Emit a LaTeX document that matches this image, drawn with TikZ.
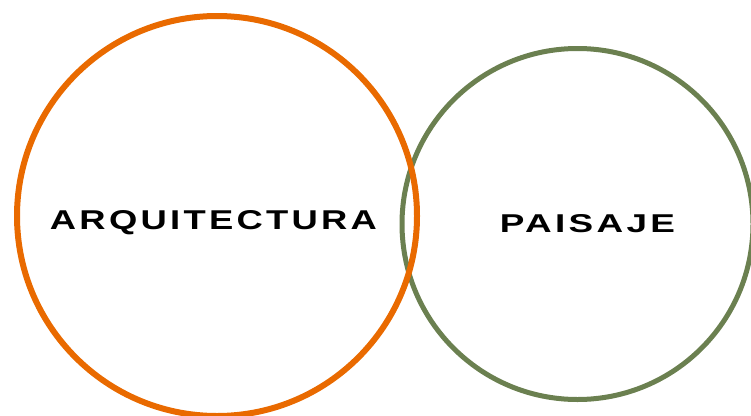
\documentclass[tikz,border=0pt]{standalone}
\usepackage{fontspec}
\usepackage{graphicx}
\newfontfamily\widefont[LetterSpace=9]{Liberation Sans Bold}
\definecolor{archorange}{RGB}{233,106,0}
\definecolor{landgreen}{RGB}{107,128,80}
\begin{document}
\begin{tikzpicture}[x=1pt,y=-1pt,
  ring/.style={draw=#1,fill=none},
  label/.style={inner sep=0pt,text=black}]
\useasboundingbox (0,0) rectangle (751,415);
\node[ring=landgreen,line width=5pt,circle,minimum size=351pt,inner sep=0pt] (paisaje) at (577.5,224) {};
\node[ring=archorange,line width=6pt,circle,minimum size=400pt,inner sep=0pt] (arq) at (217,216) {};
\node[label] (arqtext) at (213.5,222.5) {\resizebox{327pt}{19pt}{\widefont ARQUITECTURA}};
\node[label] (paitext) at (587.5,224) {\resizebox{175pt}{18pt}{\widefont PAISAJE}};
\end{tikzpicture}
\end{document}
